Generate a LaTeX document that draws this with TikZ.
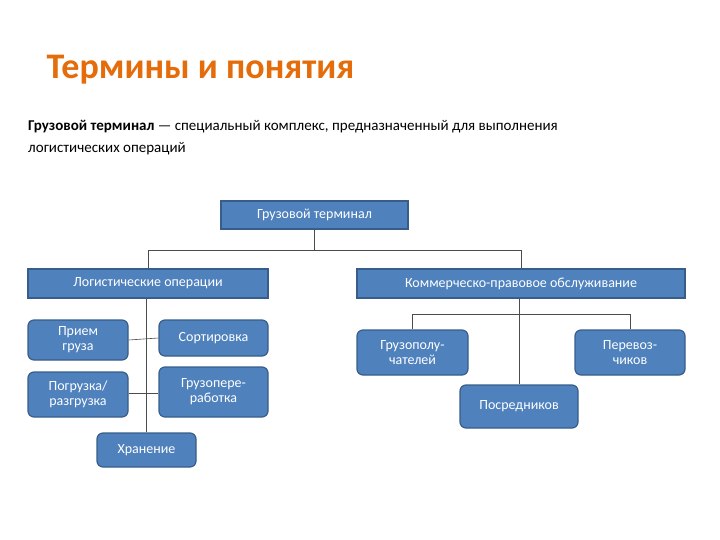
\documentclass[tikz,border=0pt]{standalone}
\usepackage{fontspec}
\setmainfont{Carlito}
\definecolor{bfill}{HTML}{4F81BD}
\definecolor{bline}{HTML}{385D8A}
\definecolor{ttl}{HTML}{E46C0A}
\begin{document}
\begin{tikzpicture}[x=1pt,y=-1pt,
  sq/.style={draw=bline,fill=bfill,line width=1.2pt,text=white,font=\fontsize{14}{15}\selectfont,inner sep=0pt,align=center},
  rb/.style={sq,rounded corners=6pt},
  ln/.style={draw=black!70,line width=0.6pt}]
\useasboundingbox (0,0) rectangle (720,540);
\node[anchor=west,text=ttl,font=\fontsize{36}{40}\selectfont\bfseries] (title) at (43,70) {Термины и понятия};
\node[anchor=north west,align=left,font=\fontsize{15}{22}\selectfont,inner sep=0pt] (desc) at (28,120) {\textbf{Грузовой терминал} — специальный комплекс, предназначенный для выполнения\\логистических операций};
\node[sq,minimum width=187pt,minimum height=28pt] (root) at (314.5,215) {Грузовой терминал};
\node[sq,minimum width=240pt,minimum height=29pt] (log) at (148,283.5) {Логистические операции};
\node[sq,minimum width=328pt,minimum height=29pt] (kom) at (521,283.5) {Коммерческо-правовое обслуживание};
\node[rb,minimum width=100pt,minimum height=40pt] (pri) at (78,340) {Прием\\груза};
\node[rb,minimum width=109pt,minimum height=36pt] (sor) at (213.5,338) {Сортировка};
\node[rb,minimum width=100pt,minimum height=45pt] (pog) at (78,394.5) {Погрузка/\\разгрузка};
\node[rb,minimum width=109pt,minimum height=50pt] (gpr) at (213.5,392) {Грузопере-\\работка};
\node[rb,minimum width=99pt,minimum height=34pt] (hra) at (146.5,450) {Хранение};
\node[rb,minimum width=111pt,minimum height=45pt] (gpol) at (412.5,352.5) {Грузополу-\\чателей};
\node[rb,minimum width=110pt,minimum height=45pt] (per) at (630,352.5) {Перевоз-\\чиков};
\node[rb,minimum width=118pt,minimum height=43pt] (pos) at (519,406.5) {Посредников};
\coordinate (j1) at (146,340);
\coordinate (j2) at (146,393);
\draw[ln] (root.south) -- ++(0,21) -| (log.north);
\draw[ln] (root.south) -- ++(0,21) -| (kom.north);
\draw[ln] (log.south -| hra.north) -- (hra.north);
\draw[ln] (pri.east) -- (sor.west);
\draw[ln] (pog.east |- j2) -- (gpr.west |- j2);
\draw[ln] (kom.south -| pos.north) -- (pos.north);
\draw[ln] (kom.south -| pos.north) ++(0,16) -| (gpol.north);
\draw[ln] (kom.south -| pos.north) ++(0,16) -| (per.north);
\end{tikzpicture}
\end{document}
